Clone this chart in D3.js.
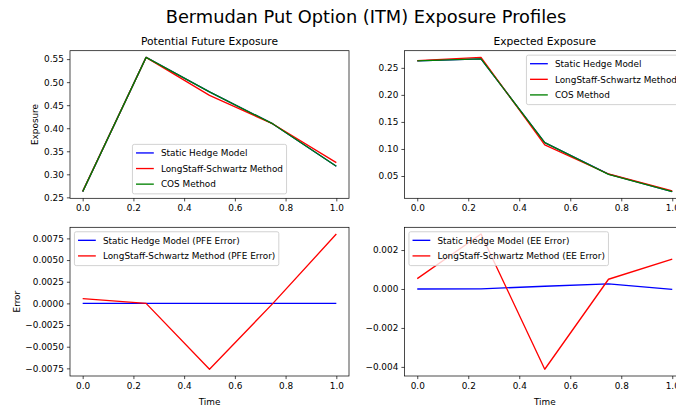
<!DOCTYPE html>
<html>
<head>
<meta charset="utf-8">
<script src="https://cdn.jsdelivr.net/npm/d3@7"></script>
<style>
  body { margin: 0; background: #fff; overflow: hidden; }
  svg { display: block; font-family: "DejaVu Sans", sans-serif; }
</style>
</head>
<body>
<div id="chart"></div>
<script>
// time grid
const times = [0, 0.25, 0.5, 0.75, 1.0];

// Potential Future Exposure
const pfeStatic = [0.2625, 0.5537, 0.4790, 0.4093, 0.3175];
const pfeLS     = [0.2630, 0.5537, 0.4714, 0.4093, 0.3255];
const pfeCOS    = [0.2625, 0.5537, 0.4790, 0.4093, 0.3175];

// Expected Exposure
const eeStatic = [0.2628, 0.2665, 0.1119, 0.0535, 0.0212];
const eeLS     = [0.2633, 0.2693, 0.1077, 0.0537, 0.0227];
const eeCOS    = [0.2628, 0.2665, 0.1118, 0.0532, 0.0212];

// errors vs COS
const pfeErrStatic = [0.0, 0.0, 0.0, 0.0, 0.0];
const pfeErrLS     = [0.00055, 0.0, -0.0076, 0.0, 0.0080];
const eeErrStatic  = [0.0, 0.00001, 0.00014, 0.00026, -0.00002];
const eeErrLS      = [0.00053, 0.00282, -0.00412, 0.0005, 0.00153];

// tick labels
const xTicks = [0, 0.2, 0.4, 0.6, 0.8, 1.0];
const pfeTicks = [0.25, 0.30, 0.35, 0.40, 0.45, 0.50, 0.55];
const eeTicks = [0.05, 0.10, 0.15, 0.20, 0.25];
const pfeErrTicks = [-0.0075, -0.005, -0.0025, 0, 0.0025, 0.005, 0.0075];
const eeErrTicks = [-0.004, -0.002, 0, 0.002];

const W = 676, H = 409;
const fs = 8.9;      // 10pt at the figure dpi
const lw = 1.33;

const svg = d3.select("#chart").append("svg")
  .attr("width", W)
  .attr("height", H);

svg.append("text")
  .attr("x", 366)
  .attr("y", 23)
  .attr("text-anchor", "middle")
  .attr("font-size", 17.8)
  .text("Bermudan Put Option (ITM) Exposure Profiles");

function drawPanel(p, idx) {
  const x = d3.scaleLinear().domain([-0.05, 1.05]).range([p.x0, p.x1]);

  // matplotlib style 5% margins on data extent
  const all = p.series.flatMap(s => s.values);
  const lo = d3.min(all), hi = d3.max(all);
  const pad = (hi - lo) * 0.05;
  const y = d3.scaleLinear().domain([lo - pad, hi + pad]).range([p.y1, p.y0]);

  const g = svg.append("g");

  g.append("clipPath").attr("id", "clip" + idx)
    .append("rect")
    .attr("x", p.x0).attr("y", p.y0)
    .attr("width", p.x1 - p.x0).attr("height", p.y1 - p.y0);

  const line = d3.line()
    .x((d, i) => x(times[i]))
    .y(d => y(d));

  p.series.forEach(s => {
    g.append("path")
      .datum(s.values)
      .attr("clip-path", `url(#clip${idx})`)
      .attr("fill", "none")
      .attr("stroke", s.color)
      .attr("stroke-width", lw)
      .attr("stroke-linejoin", "round")
      .attr("d", line);
  });

  // axes
  const xAxis = g.append("g")
    .attr("transform", `translate(0,${p.y1})`)
    .call(d3.axisBottom(x).tickValues(xTicks).tickFormat(d3.format(".1f"))
      .tickSize(3.1).tickPadding(3.1));
  const yAxis = g.append("g")
    .attr("transform", `translate(${p.x0},0)`)
    .call(d3.axisLeft(y).tickValues(p.yTicks).tickFormat(d3.format(p.yFmt))
      .tickSize(3.1).tickPadding(3.1));

  [xAxis, yAxis].forEach(a => {
    a.select(".domain").remove();
    a.selectAll("line").attr("stroke", "#000").attr("stroke-width", 0.71);
    a.selectAll("text").attr("font-size", fs).attr("fill", "#000")
      .attr("font-family", "DejaVu Sans");
  });

  g.append("rect")
    .attr("x", p.x0).attr("y", p.y0)
    .attr("width", p.x1 - p.x0).attr("height", p.y1 - p.y0)
    .attr("fill", "none")
    .attr("stroke", "#000")
    .attr("stroke-width", 0.71);

  if (p.title) {
    g.append("text")
      .attr("x", (p.x0 + p.x1) / 2)
      .attr("y", p.y0 - 5.6)
      .attr("text-anchor", "middle")
      .attr("font-size", 10.7)
      .text(p.title);
  }

  if (p.ylabel) {
    // bbox is in the axis group's own coords, so shift by x0
    const bb = yAxis.node().getBBox();
    const lx = p.x0 + bb.x - 3.5 - 2.1;
    g.append("text")
      .attr("transform", `translate(${lx},${(p.y0 + p.y1) / 2}) rotate(-90)`)
      .attr("text-anchor", "middle")
      .attr("font-size", fs)
      .text(p.ylabel);
  }

  if (p.xlabel) {
    g.append("text")
      .attr("x", (p.x0 + p.x1) / 2)
      .attr("y", p.y1 + 29)
      .attr("text-anchor", "middle")
      .attr("font-size", fs)
      .text(p.xlabel);
  }

  drawLegend(g, p.series, p.legend, p);
}

function drawLegend(g, items, loc, p) {
  const bpad = 3.56, hLen = 17.8, hPad = 7.1, rowH = 11.15, gap = 4.45, axPad = 4.45;
  const lg = g.append("g");
  const box = lg.append("rect");

  const texts = items.map(s => lg.append("text").attr("font-size", fs).text(s.label));
  const tw = d3.max(texts, t => t.node().getComputedTextLength());
  const w = 2 * bpad + hLen + hPad + tw;
  const h = 2 * bpad + items.length * rowH + (items.length - 1) * gap;

  let lx, ly;
  if (loc === "lower center") { lx = (p.x0 + p.x1) / 2 - w / 2; ly = p.y1 - axPad - h; }
  else if (loc === "upper right") { lx = p.x1 - axPad - w; ly = p.y0 + axPad; }
  else { lx = p.x0 + axPad; ly = p.y0 + axPad; }

  box.attr("x", lx).attr("y", ly).attr("width", w).attr("height", h)
    .attr("rx", 1.8)
    .attr("fill", "#fff").attr("fill-opacity", 0.8)
    .attr("stroke", "#cccccc").attr("stroke-width", 0.89);

  items.forEach((s, i) => {
    const top = ly + bpad + i * (rowH + gap);
    lg.append("line")
      .attr("x1", lx + bpad).attr("x2", lx + bpad + hLen)
      .attr("y1", top + 5).attr("y2", top + 5)
      .attr("stroke", s.color).attr("stroke-width", lw);
    texts[i].attr("x", lx + bpad + hLen + hPad).attr("y", top + 8.3);
  });
}

const panels = [
  { x0: 70, x1: 349, y0: 50.7, y1: 198.3, title: "Potential Future Exposure", ylabel: "Exposure",
    yTicks: pfeTicks, yFmt: ".2f", legend: "lower center",
    series: [
      { values: pfeStatic, color: "blue", label: "Static Hedge Model" },
      { values: pfeLS, color: "red", label: "LongStaff-Schwartz Method" },
      { values: pfeCOS, color: "green", label: "COS Method" }
    ] },
  { x0: 404.5, x1: 685, y0: 50.7, y1: 198.3, title: "Expected Exposure",
    yTicks: eeTicks, yFmt: ".2f", legend: "upper right",
    series: [
      { values: eeStatic, color: "blue", label: "Static Hedge Model" },
      { values: eeLS, color: "red", label: "LongStaff-Schwartz Method" },
      { values: eeCOS, color: "green", label: "COS Method" }
    ] },
  { x0: 70, x1: 349, y0: 227.3, y1: 376, ylabel: "Error", xlabel: "Time",
    yTicks: pfeErrTicks, yFmt: ".4f", legend: "upper left",
    series: [
      { values: pfeErrStatic, color: "blue", label: "Static Hedge Model (PFE Error)" },
      { values: pfeErrLS, color: "red", label: "LongStaff-Schwartz Method (PFE Error)" }
    ] },
  { x0: 404.5, x1: 685, y0: 227.3, y1: 376, xlabel: "Time",
    yTicks: eeErrTicks, yFmt: ".3f", legend: "upper left",
    series: [
      { values: eeErrStatic, color: "blue", label: "Static Hedge Model (EE Error)" },
      { values: eeErrLS, color: "red", label: "LongStaff-Schwartz Method (EE Error)" }
    ] }
];

panels.forEach(drawPanel);
</script>
</body>
</html>
